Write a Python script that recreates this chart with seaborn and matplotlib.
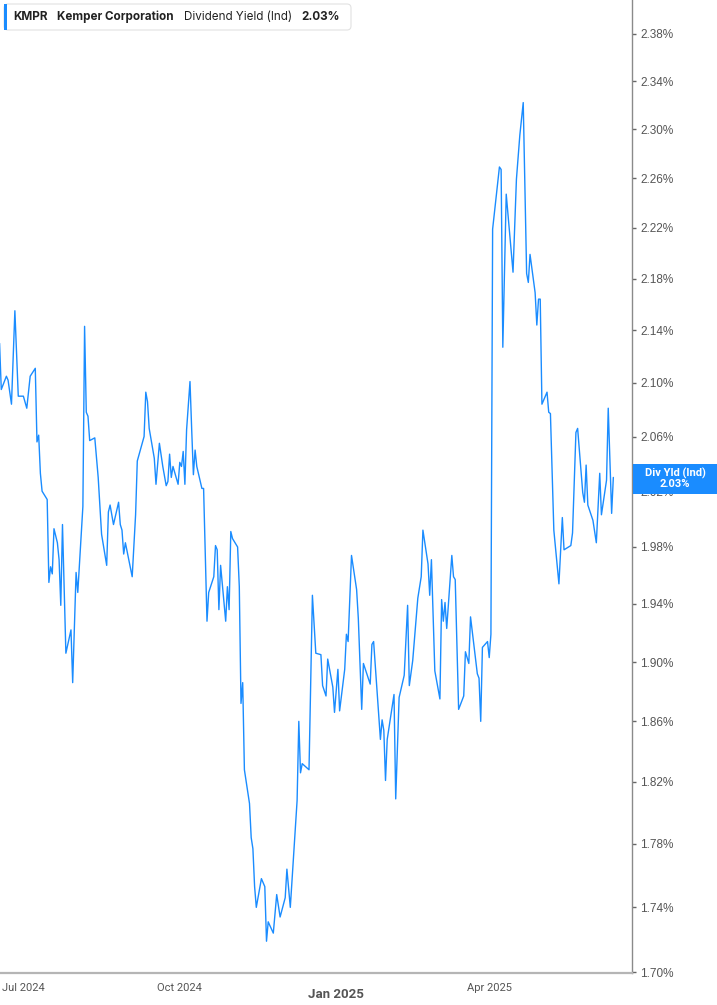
import matplotlib
matplotlib.use("Agg")
import matplotlib.pyplot as plt
import matplotlib.ticker as mticker
from matplotlib.patches import Rectangle, FancyBboxPatch
import seaborn as sns
import pandas as pd

# ---------------- data ----------------
dates = [
    "2024-06-17", "2024-06-18", "2024-06-21", "2024-06-22", "2024-06-24", "2024-06-26", "2024-06-28",
    "2024-07-01", "2024-07-03", "2024-07-05", "2024-07-08", "2024-07-09", "2024-07-10", "2024-07-11",
    "2024-07-12", "2024-07-15", "2024-07-16", "2024-07-17", "2024-07-18", "2024-07-19", "2024-07-21",
    "2024-07-22", "2024-07-23", "2024-07-24", "2024-07-26", "2024-07-29", "2024-07-30",
    "2024-08-01", "2024-08-02", "2024-08-05", "2024-08-06", "2024-08-07", "2024-08-08", "2024-08-09",
    "2024-08-12", "2024-08-14", "2024-08-16", "2024-08-19", "2024-08-20", "2024-08-21", "2024-08-23",
    "2024-08-26", "2024-08-27", "2024-08-28", "2024-08-29", "2024-08-30",
    "2024-09-03", "2024-09-05", "2024-09-06", "2024-09-10", "2024-09-11", "2024-09-12", "2024-09-13",
    "2024-09-16", "2024-09-17", "2024-09-19", "2024-09-21", "2024-09-23", "2024-09-24", "2024-09-25",
    "2024-09-26", "2024-09-27", "2024-09-30",
    "2024-10-01", "2024-10-02", "2024-10-03", "2024-10-04", "2024-10-05", "2024-10-07", "2024-10-08",
    "2024-10-09", "2024-10-10", "2024-10-11", "2024-10-14", "2024-10-15", "2024-10-17", "2024-10-18",
    "2024-10-21", "2024-10-22", "2024-10-23", "2024-10-24", "2024-10-25", "2024-10-28", "2024-10-29",
    "2024-10-30", "2024-10-31",
    "2024-11-01", "2024-11-04", "2024-11-05", "2024-11-06", "2024-11-07", "2024-11-08", "2024-11-11",
    "2024-11-12", "2024-11-13", "2024-11-14", "2024-11-15", "2024-11-18", "2024-11-20", "2024-11-21",
    "2024-11-22", "2024-11-25", "2024-11-27", "2024-11-29",
    "2024-12-02", "2024-12-03", "2024-12-05", "2024-12-09", "2024-12-10", "2024-12-11", "2024-12-12",
    "2024-12-16", "2024-12-18", "2024-12-20", "2024-12-23", "2024-12-24", "2024-12-26", "2024-12-27",
    "2024-12-30", "2024-12-31",
    "2025-01-02", "2025-01-03", "2025-01-06", "2025-01-07", "2025-01-08", "2025-01-10", "2025-01-13",
    "2025-01-14", "2025-01-16", "2025-01-17", "2025-01-21", "2025-01-22", "2025-01-23", "2025-01-27",
    "2025-01-28", "2025-01-29", "2025-01-30", "2025-01-31",
    "2025-02-04", "2025-02-05", "2025-02-07", "2025-02-10", "2025-02-12", "2025-02-13", "2025-02-15",
    "2025-02-18", "2025-02-20", "2025-02-21", "2025-02-24", "2025-02-25", "2025-02-26", "2025-02-28",
    "2025-03-03", "2025-03-04", "2025-03-05", "2025-03-06", "2025-03-07", "2025-03-10", "2025-03-11",
    "2025-03-12", "2025-03-14", "2025-03-17", "2025-03-18", "2025-03-20", "2025-03-21", "2025-03-25",
    "2025-03-26", "2025-03-27", "2025-03-28", "2025-03-31",
    "2025-04-01", "2025-04-02", "2025-04-03", "2025-04-07", "2025-04-08", "2025-04-09", "2025-04-11",
    "2025-04-15", "2025-04-17", "2025-04-19", "2025-04-21", "2025-04-23", "2025-04-24", "2025-04-25",
    "2025-04-28", "2025-04-29", "2025-04-30",
    "2025-05-01", "2025-05-02", "2025-05-05", "2025-05-06", "2025-05-07", "2025-05-09", "2025-05-12",
    "2025-05-14", "2025-05-15", "2025-05-19", "2025-05-20", "2025-05-22", "2025-05-23", "2025-05-26",
    "2025-05-27", "2025-05-28", "2025-05-29",
    "2025-06-01", "2025-06-03", "2025-06-05", "2025-06-06", "2025-06-09", "2025-06-10", "2025-06-12",
    "2025-06-13",
]

dividend_yield = [
    2.130, 2.095, 2.105, 2.102, 2.084, 2.155, 2.090,
    2.090, 2.081, 2.105, 2.111, 2.056, 2.061, 2.033,
    2.020, 2.014, 1.955, 1.966, 1.961, 1.993, 1.983,
    1.971, 1.939, 1.996, 1.906, 1.922, 1.886,
    1.962, 1.948, 2.009, 2.143, 2.078, 2.075, 2.057,
    2.059, 2.030, 1.989, 1.967, 2.005, 2.010, 1.996,
    2.012, 1.996, 1.992, 1.975, 1.983,
    1.959, 2.003, 2.042, 2.060, 2.093, 2.086, 2.066,
    2.044, 2.025, 2.055, 2.038, 2.024, 2.027, 2.047,
    2.030, 2.038, 2.025,
    2.041, 2.038, 2.049, 2.025, 2.065, 2.101, 2.065,
    2.032, 2.050, 2.038, 2.022, 2.022, 1.928, 1.948,
    1.959, 1.981, 1.978, 1.936, 1.967, 1.928, 1.952,
    1.936, 1.991,
    1.986, 1.980, 1.952, 1.872, 1.886, 1.828, 1.806,
    1.784, 1.777, 1.753, 1.740, 1.758, 1.753, 1.719,
    1.731, 1.724, 1.748, 1.734,
    1.746, 1.764, 1.740, 1.808, 1.860, 1.826, 1.832,
    1.828, 1.946, 1.906, 1.905, 1.884, 1.877, 1.902,
    1.883, 1.866,
    1.895, 1.867, 1.895, 1.919, 1.914, 1.974, 1.950,
    1.930, 1.868, 1.899, 1.885, 1.912, 1.914, 1.848,
    1.861, 1.854, 1.821, 1.848,
    1.878, 1.809, 1.876, 1.891, 1.939, 1.884, 1.901,
    1.944, 1.959, 1.992, 1.968, 1.946, 1.971, 1.894,
    1.875, 1.943, 1.928, 1.941, 1.923, 1.974, 1.959,
    1.957, 1.868, 1.877, 1.907, 1.899, 1.931, 1.892,
    1.889, 1.860, 1.910, 1.914,
    1.903, 1.919, 2.219, 2.269, 2.267, 2.127, 2.247,
    2.185, 2.259, 2.295, 2.322, 2.184, 2.177, 2.199,
    2.169, 2.144, 2.164,
    2.164, 2.084, 2.093, 2.078, 2.077, 1.992, 1.954,
    2.001, 1.978, 1.981, 1.990, 2.063, 2.066, 2.019,
    2.012, 2.039, 2.010,
    1.999, 1.983, 2.033, 2.003, 2.028, 2.081, 2.004,
    2.030,
]

y_ticks = [1.70, 1.74, 1.78, 1.82, 1.86, 1.90, 1.94, 1.98, 2.02, 2.06,
           2.10, 2.14, 2.18, 2.22, 2.26, 2.30, 2.34, 2.38]
x_tick_dates = ["2024-07-01", "2024-10-01", "2025-01-01", "2025-04-01"]
x_tick_labels = ["Jul 2024", "Oct 2024", "Jan 2025", "Apr 2025"]

ticker_symbol = "KMPR"
company_name = "Kemper Corporation"
metric_name = "Dividend Yield (Ind)"
badge_name = "Div Yld (Ind)"

# ---------------- style ----------------
sns.set_style("white")
plt.rcParams["font.family"] = ["Roboto", "DejaVu Sans"]

BLUE = "#1a8cff"
GRAY_TXT = "#555555"

df = pd.DataFrame({"date": pd.to_datetime(dates), "value": dividend_yield})

W, H, DPI = 7.17, 10.05, 100
fig = plt.figure(figsize=(W, H), dpi=DPI)
ax = fig.add_axes([0.0, 0.0318, 0.8815, 0.9682])

sns.lineplot(data=df, x="date", y="value", ax=ax, color=BLUE, linewidth=1.0)

ax.set_yscale("log")
ax.set_ylim(1.6995, 2.409)
ax.set_xlim(pd.Timestamp("2024-06-17 06:00"), pd.Timestamp("2025-06-24"))

ax.yaxis.set_major_locator(mticker.FixedLocator(y_ticks))
ax.yaxis.set_minor_locator(mticker.NullLocator())
ax.yaxis.set_major_formatter(mticker.FuncFormatter(lambda v, p: f"{v:.2f}%"))
ax.yaxis.set_minor_formatter(mticker.NullFormatter())
ax.yaxis.tick_right()

ax.set_xticks(pd.to_datetime(x_tick_dates))
ax.set_xticklabels(x_tick_labels)
ax.xaxis.set_minor_locator(mticker.NullLocator())

ax.set_xlabel("")
ax.set_ylabel("")
ax.grid(False)

for s in ["top", "left"]:
    ax.spines[s].set_visible(False)
ax.spines["right"].set_color("#8a8a8a")
ax.spines["right"].set_linewidth(1.0)
ax.spines["bottom"].set_color("#b5b5b5")
ax.spines["bottom"].set_linewidth(1.6)

ax.tick_params(axis="y", which="major", direction="out", length=3, width=1,
               color="#666666", pad=3, labelsize=8.5, labelcolor=GRAY_TXT,
               left=False, right=True, labelleft=False, labelright=True)
ax.tick_params(axis="x", which="major", direction="out", length=5, width=1,
               color="#b5b5b5", pad=2, labelsize=8, labelcolor=GRAY_TXT)

for lab in ax.get_yticklabels():
    lab.set_fontfamily(["Liberation Sans", "DejaVu Sans"])

for tick, lab in zip(ax.xaxis.get_major_ticks(), x_tick_labels):
    if lab.startswith("Jan"):
        tick.label1.set_fontweight("bold")
        tick.label1.set_fontsize(9.5)
        tick.set_pad(6)

# ---------------- legend box (top-left) ----------------
inch = fig.dpi_scale_trans
box = FancyBboxPatch((0.04, (1005 - 30) / 100), 3.47, 0.26,
                     boxstyle="round,pad=0,rounding_size=0.04",
                     transform=inch, facecolor="white", edgecolor="#e2e2e2",
                     linewidth=0.8, zorder=10)
fig.patches.append(box)
fig.patches.append(Rectangle((0.04, (1005 - 30) / 100), 0.03, 0.26, transform=inch,
                             facecolor=BLUE, edgecolor="none", zorder=11))
ty = (1005 - 17) / 100
last_val = dividend_yield[-1]
LEG_FONT = ["Inter", "DejaVu Sans"]
LEG_SIZE = 8.4
fig.text(0.13, ty, ticker_symbol, transform=inch, fontsize=LEG_SIZE, fontweight="bold",
         color="#222222", va="center", ha="left", zorder=12, family=LEG_FONT)
fig.text(0.57, ty, company_name, transform=inch, fontsize=LEG_SIZE, fontweight="bold",
         color="#222222", va="center", ha="left", zorder=12, family=LEG_FONT)
fig.text(1.84, ty, metric_name, transform=inch, fontsize=LEG_SIZE, fontweight="normal",
         color="#222222", va="center", ha="left", zorder=12, family=LEG_FONT)
fig.text(3.01, ty, f"{last_val:.2f}%", transform=inch, fontsize=LEG_SIZE, fontweight="bold",
         color="#222222", va="center", ha="left", zorder=12, family=LEG_FONT)

# ---------------- last-value badge on the right axis ----------------
x_right_in = ax.get_position().x1 * W
yc_px = ax.transData.transform((ax.get_xlim()[1], last_val))[1]
yc_in = yc_px / DPI
bh = 0.30
fig.patches.append(Rectangle((x_right_in + 0.01, yc_in - bh / 2 - 0.015), W - x_right_in, bh,
                             transform=inch, facecolor=BLUE, edgecolor="none", zorder=10))
xc_in = (x_right_in + W) / 2 + 0.005
fig.text(xc_in, yc_in + 0.045, badge_name, transform=inch, fontsize=8, fontweight="bold",
         color="white", ha="center", va="center", zorder=12)
fig.text(xc_in, yc_in - 0.065, f"{last_val:.2f}%", transform=inch, fontsize=8,
         fontweight="bold", color="white", ha="center", va="center", zorder=12)

fig.savefig("out.png", dpi=DPI)
